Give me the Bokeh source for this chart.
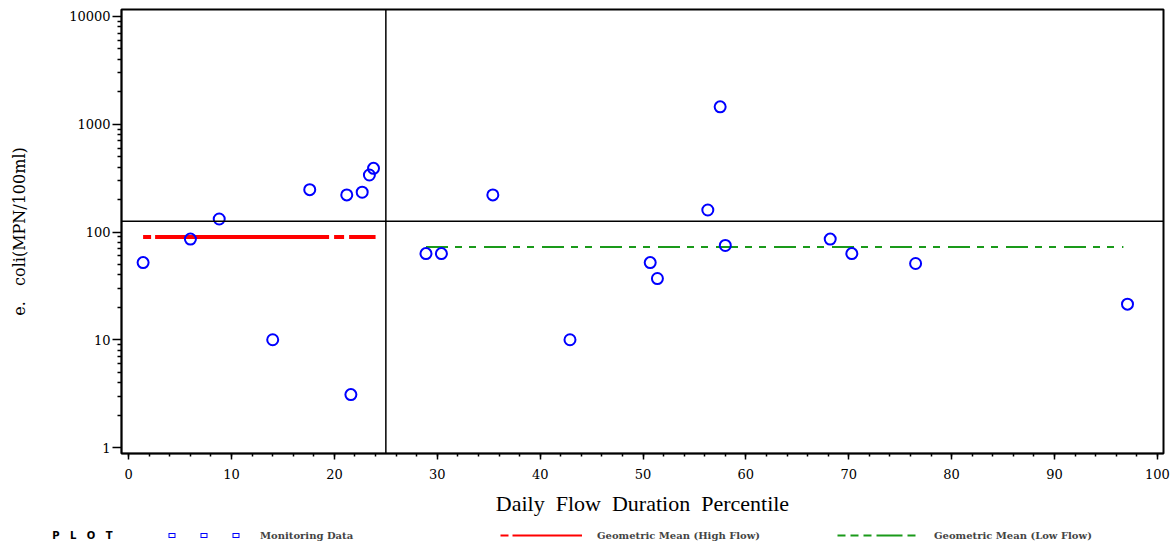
from bokeh.plotting import figure
from bokeh.models import (Range1d, FixedTicker, PrintfTickFormatter, Span, Legend,
                          LegendItem, ColumnDataSource)
from bokeh.layouts import column
from bokeh.embed import file_html
from bokeh.resources import INLINE

# ---- data ----
flow_pct = [1.4, 6.0, 8.8, 14.0, 17.6, 21.2, 21.6, 22.7, 23.4, 23.8,
            28.9, 30.4, 35.4, 42.9, 50.7, 51.4, 56.3, 57.5, 58.0, 68.2,
            70.3, 76.5, 97.1]
ecoli = [52, 86, 132, 10, 247, 221, 3.1, 234, 338, 390,
         63, 63, 221, 10, 52, 37, 160, 1450, 75, 86,
         63, 51, 21.4]

high_flow_x = [1.4, 24.0]
high_flow_gm = [90, 90]
low_flow_x = [28.9, 96.7]
low_flow_gm = [72.6, 72.6]

criterion = 126          # horizontal reference line
flow_split = 25          # vertical reference line

x_ticks = list(range(0, 101, 10))
x_minor = list(range(0, 101, 2))
y_ticks = [1, 10, 100, 1000, 10000]
y_minor = [m * d for d in [1, 10, 100, 1000] for m in range(2, 10)]

NB = "\u00a0"
x_title = f"Daily{NB}{NB}Flow{NB}{NB}Duration{NB}{NB}Percentile"
y_title = f"e.{NB}{NB}{NB}coli(MPN/100ml)"
legend_title = f"P{NB}{NB}{NB}L{NB}{NB}{NB}O{NB}{NB}{NB}T"
legend_labels = ["Monitoring Data", "Geometric Mean (High Flow)", "Geometric Mean (Low Flow)"]

SERIF = "DejaVu Serif"
BLUE, RED, GREEN = "#0000ff", "#ff0000", "#1a9a1a"

p = figure(width=1173, height=522, y_axis_type="log",
           x_range=Range1d(-0.7, 100.6), y_range=Range1d(0.88, 11610),
           output_backend="svg", toolbar_location=None,
           min_border_left=121, min_border_right=10,
           min_border_top=9, min_border_bottom=69)
p.grid.visible = False
p.outline_line_color = "black"
p.outline_line_width = 2
p.background_fill_color = "white"
p.border_fill_color = "white"

# axes
p.xaxis.ticker = FixedTicker(ticks=x_ticks, minor_ticks=x_minor)
p.yaxis.ticker = FixedTicker(ticks=y_ticks, minor_ticks=y_minor)
p.yaxis.formatter = PrintfTickFormatter(format="%d")
for ax in (p.xaxis[0], p.yaxis[0]):
    ax.axis_line_color = "black"
    ax.axis_line_width = 1.5
    ax.major_tick_line_color = "black"
    ax.minor_tick_line_color = "black"
    ax.major_tick_line_width = 1.5
    ax.minor_tick_line_width = 1.5
    ax.major_tick_in = 0
    ax.minor_tick_in = 0
    ax.major_label_text_font = SERIF
    ax.major_label_text_font_size = "13px"
    ax.major_label_text_color = "black"
    ax.axis_label_text_color = "black"
    ax.axis_label_text_font_style = "normal"

p.xaxis.major_tick_out = 6
p.xaxis.minor_tick_out = 3
p.xaxis.major_label_standoff = 9
p.xaxis.axis_label = x_title
p.xaxis.axis_label_text_font = "Liberation Serif"
p.xaxis.axis_label_text_font_size = "22px"
p.xaxis.axis_label_standoff = 9

p.yaxis.major_tick_out = 9
p.yaxis.minor_tick_out = 4
p.yaxis.major_label_standoff = 2
p.yaxis.axis_label = y_title
p.yaxis.axis_label_text_font = SERIF
p.yaxis.axis_label_text_font_size = "16px"
p.yaxis.axis_label_standoff = 37

# reference lines
p.add_layout(Span(location=criterion, dimension="width", line_color="black", line_width=1.5))
p.add_layout(Span(location=flow_split, dimension="height", line_color="black", line_width=1.5))

# geometric mean lines
p.line(high_flow_x, high_flow_gm, line_color=RED, line_width=4,
       line_dash="8 4 174 5 10 5 60 5")
p.line(low_flow_x, low_flow_gm, line_color=GREEN, line_width=2,
       line_dash="22 7 7 7 7 8")

# monitoring data
src = ColumnDataSource(dict(x=flow_pct, y=ecoli))
p.scatter("x", "y", source=src, marker="circle", size=11, line_color=BLUE,
          line_width=2, fill_alpha=0)

# ---- legend strip (separate figure so nothing is clipped) ----
lf = figure(width=1173, height=26, output_backend="svg", toolbar_location=None,
            x_axis_type=None, x_range=Range1d(0, 1), y_range=Range1d(0, 1),
            min_border=0, min_border_left=121, min_border_right=10,
            min_border_top=0, min_border_bottom=0)
lf.grid.visible = False
lf.outline_line_color = None
lf.background_fill_color = "white"
lf.border_fill_color = "white"
ya = lf.yaxis[0]
ya.ticker = FixedTicker(ticks=[])
ya.axis_line_color = None
ya.major_tick_line_color = None
ya.minor_tick_line_color = None
ya.axis_label = legend_title
ya.axis_label_orientation = "horizontal"
ya.axis_label_text_font = "DejaVu Sans"
ya.axis_label_text_font_size = "10px"
ya.axis_label_text_font_style = "bold"
ya.axis_label_text_color = "black"
ya.axis_label_standoff = 9

nan = float("nan")
stub = dict(x=[nan], y=[nan])   # legend-only renderers, nothing drawn in the frame
sq_outer = lf.line("x", "y", source=ColumnDataSource(stub), line_color=BLUE,
                   line_width=5, line_dash="0 5 7 20")
sq_inner = lf.line("x", "y", source=ColumnDataSource(stub), line_color="white",
                   line_width=3, line_dash="0 6 5 21")
red_leg = lf.line("x", "y", source=ColumnDataSource(stub), line_color=RED,
                  line_width=2, line_dash="8 4 174 5")
green_leg = lf.line("x", "y", source=ColumnDataSource(stub), line_color=GREEN,
                    line_width=2, line_dash="8 5 8 5 8 5 26 5")

legend = Legend(items=[
    LegendItem(label=legend_labels[0], renderers=[sq_outer, sq_inner]),
    LegendItem(label=legend_labels[1], renderers=[red_leg]),
    LegendItem(label=legend_labels[2], renderers=[green_leg]),
], orientation="horizontal", location=(42, 7),
    glyph_width=82, glyph_height=12, label_standoff=15, label_width=220, spacing=20,
    padding=0, margin=0, border_line_alpha=0, background_fill_alpha=0,
    label_text_font=SERIF, label_text_font_size="10px", label_text_font_style="bold",
    label_height=12)
lf.add_layout(legend, "center")

layout = column(p, lf, spacing=0)
open("out.html", "w").write(file_html(layout, INLINE))
